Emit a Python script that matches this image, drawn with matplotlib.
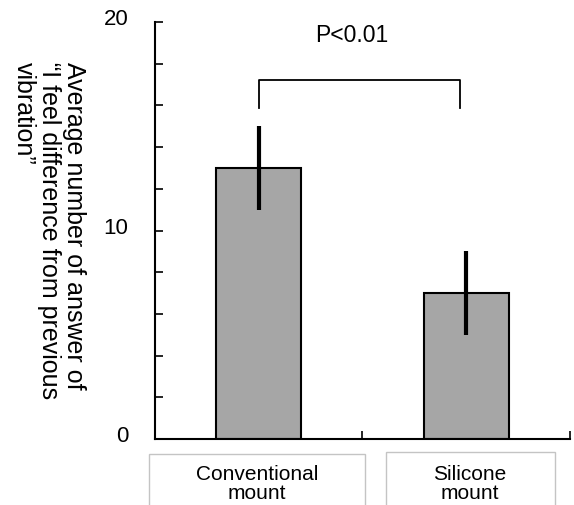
"""
plot.py

Bar chart: average number of "I feel difference" answers per mount type
"""

import matplotlib
matplotlib.use('Agg')
import matplotlib.pyplot as plt
import matplotlib.transforms as mtrans
from matplotlib.patches import Rectangle

plt.rcParams['font.family'] = ['Liberation Sans', 'DejaVu Sans']

categories = ['Conventional\nmount', 'Silicone\nmount']
means = [13, 7]
errors = [2, 2]
p_label = 'P<0.01'
bracket_x = [0, 0, 0.97, 0.97]
bracket_y = [15.9, 17.2, 17.2, 15.9]

fig = plt.figure(figsize=(5.74, 5.06), dpi=100)
ax = fig.add_axes([0.270, 0.1304, 0.723, 0.8241])

xpos = list(range(len(categories)))
ax.bar(xpos, means, width=0.41, color='#a6a6a6', edgecolor='black', linewidth=1.5)
ax.errorbar(xpos, means, yerr=errors, fmt='none', ecolor='black',
            elinewidth=3, capsize=0)

# significance bracket
ax.plot(bracket_x, bracket_y, color='black', linewidth=1.3)
ax.text(0.45, 19.4, p_label, ha='center', va='center', fontsize=16.5)

ax.set_xlim(-0.5, 1.5)
ax.set_ylim(0, 20)
ax.set_xticks([-0.5, 0.5, 1.5])
ax.set_xticklabels([])
ax.set_yticks([0, 10, 20])
ax.set_yticks(range(0, 21, 2), minor=True)
ax.tick_params(axis='both', which='both', direction='in', length=6, width=1.2)
ax.tick_params(axis='y', which='major', labelsize=16, pad=19)
# labels sit a little above their ticks in the original
shift = mtrans.ScaledTranslation(0, 4 / 72, fig.dpi_scale_trans)
for lbl in ax.get_yticklabels():
    lbl.set_transform(lbl.get_transform() + shift)
for s in ['top', 'right']:
    ax.spines[s].set_visible(False)
for s in ['left', 'bottom']:
    ax.spines[s].set_linewidth(1.5)

# category label boxes below the axis
W, H = 574.0, 506.0
boxes = [(149, 365, 455), (386, 555, 453)]
text_x = [257, 470]
for (x0, x1, y0), tx, lab in zip(boxes, text_x, categories):
    fig.patches.append(Rectangle((x0 / W, -0.01), (x1 - x0) / W, 1.01 - y0 / H,
                                 transform=fig.transFigure, fill=False,
                                 edgecolor='#c4c4c4', linewidth=1.0))
    fig.text(tx / W, 1 - 484 / H, lab, ha='center', va='center',
             fontsize=15, linespacing=1.0)

fig.text(49 / W, 1 - 62 / H,
         'Average number of answer of\n\u201cI feel difference from previous\nvibration\u201d',
         rotation=270, ha='center', va='top', multialignment='left',
         fontsize=18, linespacing=1.05)

fig.savefig('out.png', dpi=100)
